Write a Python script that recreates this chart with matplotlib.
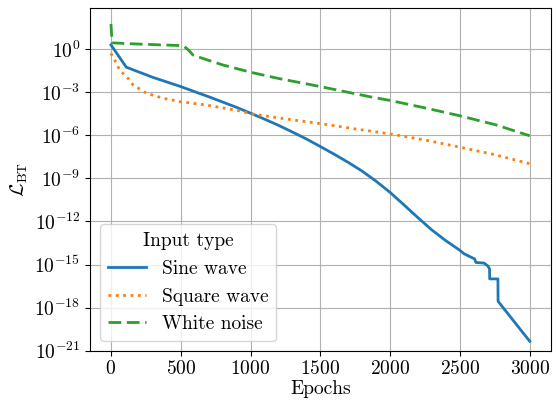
import numpy as np
import matplotlib
matplotlib.use("Agg")
import matplotlib.pyplot as plt
from matplotlib.ticker import FixedLocator, NullLocator

plt.rcParams['font.family'] = 'serif'
plt.rcParams['font.serif'] = ['cmr10']
plt.rcParams['mathtext.fontset'] = 'cm'
plt.rcParams['axes.formatter.use_mathtext'] = True
plt.rcParams['font.size'] = 14

# sine wave input
sine_epochs = [0, 110, 300, 500, 600, 700, 800, 900, 1000, 1100, 1200, 1300, 1400,
               1500, 1600, 1700, 1800, 1900, 2000, 2100, 2200, 2300, 2400, 2494,
               2530, 2590, 2605, 2614, 2673, 2700, 2712, 2713, 2772, 2773, 3000]
sine_loss = [2.0e0, 5.6e-2, 1.1e-2, 2.5e-3, 1.1e-3, 4.9e-4, 2.1e-4, 8.9e-5, 3.5e-5,
             1.35e-5, 5.0e-6, 1.7e-6, 5.6e-7, 1.66e-7, 4.8e-8, 1.3e-8, 3.2e-9,
             6.3e-10, 1.05e-10, 1.4e-11, 1.8e-12, 2.5e-13, 4.5e-14, 1.07e-14,
             5.6e-15, 2.9e-15, 2.5e-15, 1.4e-15, 1.26e-15, 7.9e-16, 5.0e-16,
             1.0e-16, 1.0e-16, 2.75e-18, 4.5e-21]

# square wave input
square_epochs = [0, 38, 62, 86, 122, 158, 253, 372, 500, 682, 921, 1000, 1250, 1500,
                 1750, 2000, 2250, 2500, 2750, 3000]
square_loss = [5.2e-1, 1.1e-1, 3.6e-2, 2.1e-2, 9.5e-3, 3.3e-3, 8.7e-4, 3.9e-4, 2.2e-4,
               1.3e-4, 5.1e-5, 3.2e-5, 1.4e-5, 6.6e-6, 2.8e-6, 1.26e-6, 4.7e-7,
               1.5e-7, 4.5e-8, 1.05e-8]

# white noise input
noise_epochs = [0, 8, 100, 300, 500, 520, 540, 560, 587, 620, 658, 706, 800, 1000,
                1193, 1500, 1850, 2000, 2256, 2500, 2757, 3000]
noise_loss = [5.8e1, 2.8e0, 2.5e0, 2.1e0, 1.8e0, 1.6e0, 1.2e0, 7.9e-1, 4.0e-1,
              3.0e-1, 2.3e-1, 1.6e-1, 8.1e-2, 2.5e-2, 9.5e-3, 2.5e-3, 5.0e-4,
              2.7e-4, 7.9e-5, 2.3e-5, 5.4e-6, 9.3e-7]

ytick_vals = [1e-21, 1e-18, 1e-15, 1e-12, 1e-9, 1e-6, 1e-3, 1e0]

fig = plt.figure(figsize=(5.57, 4.0), dpi=100)
ax = fig.add_axes([0.1616, 0.1233, 0.8271, 0.8577])

ax.plot(sine_epochs, sine_loss, color='#1f77b4', lw=2, ls='-', label='Sine wave')
ax.plot(square_epochs, square_loss, color='#ff7f0e', lw=2, ls=':', label='Square wave')
ax.plot(noise_epochs, noise_loss, color='#2ca02c', lw=2, ls=(0, (4.6, 2.0)), label='White noise')

ax.set_yscale('log')
ax.set_ylim(1e-21, 10**2.9)
ax.set_xlim(-150, 3150)
ax.yaxis.set_major_locator(FixedLocator(ytick_vals))
ax.yaxis.set_minor_locator(NullLocator())
ax.set_xticks([0, 500, 1000, 1500, 2000, 2500, 3000])
ax.grid(True, color='#b0b0b0', lw=0.8)

ax.set_xlabel('Epochs', labelpad=1)
ax.set_ylabel(r'$\mathcal{L}_{\mathrm{BT}}$', labelpad=3)
ax.legend(title='Input type', loc='lower left', fontsize=14, title_fontsize=14)

fig.savefig('out.png', dpi=100)
